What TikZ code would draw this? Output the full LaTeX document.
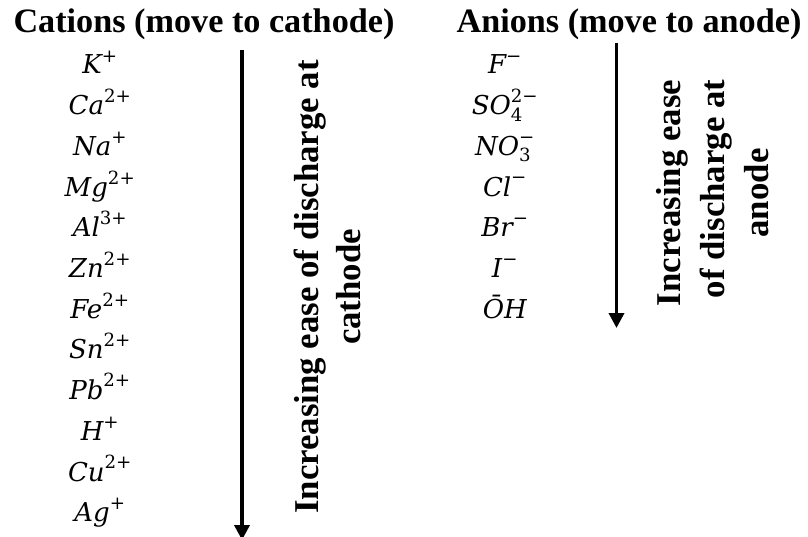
\RequirePackage{fix-cm}
\documentclass[tikz,border=0pt]{standalone}
\usepackage{amsmath}
\usepackage{fontspec}
\setmainfont{Liberation Serif}
\newfontfamily\ionfont{DejaVu Serif}
\usetikzlibrary{arrows.meta}

% an ion: italic symbol, upright subscript and charge set above one another
\newcommand\ionsym[3]{$\textit{#1}_{\text{#2}}^{\text{#3}}$}

\tikzset{
  heading/.style={inner sep=0pt, anchor=base, font=\fontsize{34.2}{40}\selectfont\bfseries},
  ion/.style={inner sep=0pt, anchor=base, font=\ionfont\fontsize{26}{32}\selectfont},
  sidelabel/.style={inner sep=0pt, anchor=base, rotate=90, font=\fontsize{34.8}{40}\selectfont\bfseries},
  orderarrow/.style={line width=3.6pt, -{Triangle[length=15pt,width=15pt]}}
}

\begin{document}
\begin{tikzpicture}[x=1pt,y=-1pt]
  \useasboundingbox (0,0) rectangle (808,537);

  % column headings
  \node[heading] (cathead) at (204,33) {Cations (move to cathode)};
  \node[heading] (anhead)  at (629,33) {Anions (move to anode)};

  % cations, in order of increasing ease of discharge
  \foreach \sym/\chg [count=\i from 0] in {K/+, Ca/2+, Na/+, Mg/2+, Al/3+, Zn/2+,
                                           Fe/2+, Sn/2+, Pb/2+, H/+, Cu/2+, Ag/+}
    \node[ion] (cat\i) at (100,74+40.7*\i) {\ionsym{\sym}{}{\chg}};

  % anions, in order of increasing ease of discharge
  \node[ion] (an0) at (505,74)          {\ionsym{F}{}{−}};
  \node[ion] (an1) at (505,74+40.7)     {\ionsym{SO}{4}{2−}};
  \node[ion] (an2) at (505,74+2*40.7)   {\ionsym{NO}{3}{−}};
  \node[ion] (an3) at (505,74+3*40.7)   {\ionsym{Cl}{}{−}};
  \node[ion] (an4) at (505,74+4*40.7)   {\ionsym{Br}{}{−}};
  \node[ion] (an5) at (505,74+5*40.7)   {\ionsym{I}{}{−}};
  \node[ion] (an6) at (505,74+6*40.7)   {\textit{ŌH}};

  % direction arrows
  \coordinate (catstart) at (242,50);
  \coordinate (catend)   at (242,540);
  \draw[orderarrow] (catstart) -- (catend);

  \coordinate (anstart) at (616.5,43);
  \coordinate (anend)   at (616.5,328);
  \draw[orderarrow] (anstart) -- (anend);

  % arrow captions
  \node[sidelabel] (catlab1) at (318,287) {Increasing ease of discharge at};
  \node[sidelabel] (catlab2) at (360,287) {cathode};

  \node[sidelabel] (anlab1) at (680,193) {Increasing ease};
  \node[sidelabel] (anlab2) at (724,189) {of discharge at};
  \node[sidelabel] (anlab3) at (768,193) {anode};
\end{tikzpicture}
\end{document}
